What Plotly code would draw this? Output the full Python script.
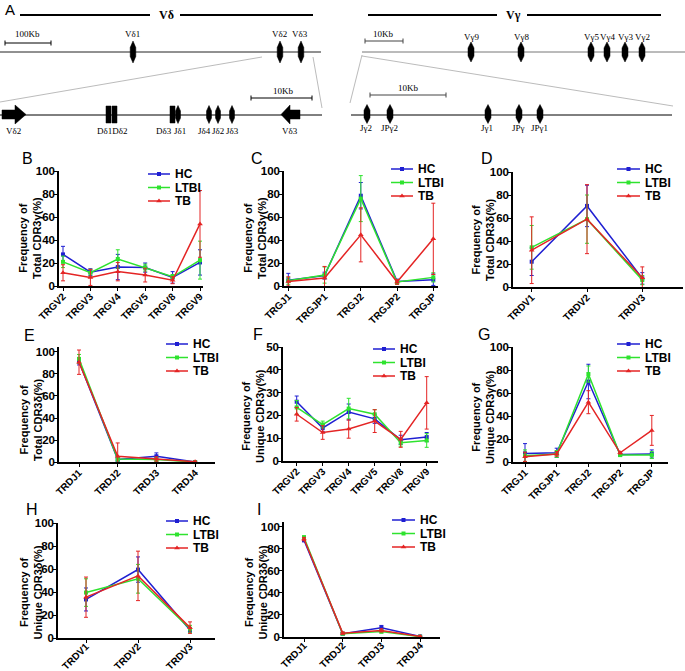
import plotly.graph_objects as go

W, H = 685, 671

# ---------------- data ----------------
groups = ["HC", "LTBI", "TB"]

TRGV = ["TRGV2", "TRGV3", "TRGV4", "TRGV5", "TRGV8", "TRGV9"]
TRGJ = ["TRGJ1", "TRGJP1", "TRGJ2", "TRGJP2", "TRGJP"]
TRDV = ["TRDV1", "TRDV2", "TRDV3"]
TRDJ = ["TRDJ1", "TRDJ2", "TRDJ3", "TRDJ4"]

# B: total CDR3 gamma, V usage
b_hc = [27.5, 12.0, 16.5, 16.0, 7.5, 20.5];  b_hc_sd = [7, 3, 11, 4, 5, 11]
b_lt = [21.0, 11.5, 23.5, 16.0, 8.0, 22.5];  b_lt_sd = [5, 3, 8, 3, 2, 16.5]
b_tb = [11.5, 7.5, 12.5, 9.5, 5.0, 54.0];    b_tb_sd = [7, 7, 8, 6, 3, 29]
# C: total CDR3 gamma, J usage
c_hc = [5.0, 9.0, 78.5, 4.0, 5.5];   c_hc_sd = [6, 3, 11.5, 2, 5]
c_lt = [4.5, 9.5, 76.0, 3.5, 7.5];   c_lt_sd = [3, 7, 20, 2, 4]
c_tb = [4.0, 7.0, 44.5, 3.5, 41.0];  c_tb_sd = [4, 10, 23.5, 2, 31]
# D: total CDR3 delta, V usage
d_hc = [22.0, 70.5, 7.5];  d_hc_sd = [12, 18, 5]
d_lt = [34.5, 59.0, 6.0];  d_lt_sd = [19, 21, 4]
d_tb = [32.0, 59.0, 8.0];  d_tb_sd = [29, 30, 9.5]
# E: total CDR3 delta, J usage
e_hc = [91.0, 2.5, 5.5, 0.3];  e_hc_sd = [3, 1.5, 3, 0.3]
e_lt = [93.5, 3.0, 2.5, 0.2];  e_lt_sd = [4, 2, 1.5, 0.2]
e_tb = [90.5, 5.5, 3.0, 0.5];  e_tb_sd = [11, 12, 2, 0.5]
# F: unique CDR3 gamma, V usage
f_hc = [26.0, 14.5, 21.5, 18.5, 9.3, 10.5];  f_hc_sd = [2.5, 1.5, 3.5, 2, 2, 2]
f_lt = [23.5, 16.0, 23.0, 20.5, 8.0, 9.0];   f_lt_sd = [3, 1.5, 4.5, 2, 1.5, 3]
f_tb = [20.5, 12.5, 14.0, 17.5, 9.5, 25.5];  f_tb_sd = [3, 3, 4, 5, 3.5, 11.5]
# G: unique CDR3 gamma, J usage
g_hc = [7.5, 8.0, 70.0, 6.5, 7.0];   g_hc_sd = [8.5, 4, 15, 1.5, 3.5]
g_lt = [5.5, 7.0, 76.5, 6.0, 6.0];   g_lt_sd = [5, 3, 7, 1, 3]
g_tb = [4.5, 7.0, 52.0, 8.0, 27.5];  g_tb_sd = [4, 2, 10, 1, 13]
# H: unique CDR3 delta, V usage
h_hc = [33.5, 59.5, 7.0];  h_hc_sd = [10, 11, 2]
h_lt = [39.5, 51.5, 8.0];  h_lt_sd = [12, 12.5, 3]
h_tb = [35.5, 54.0, 9.0];  h_tb_sd = [17.5, 21.5, 5]
# I: unique CDR3 delta, J usage
i_hc = [88.0, 3.0, 8.5, 0.5];  i_hc_sd = [1.5, 1, 2, 0.3]
i_lt = [90.5, 3.0, 5.0, 0.3];  i_lt_sd = [1.5, 1, 1.5, 0.3]
i_tb = [89.0, 3.5, 6.0, 0.5];  i_tb_sd = [1.5, 1, 1.5, 0.5]

# gene map (schematic positions along the locus drawings)
vd_top_names = ["Vδ1", "Vδ2", "Vδ3"]
vd_top_pos = [133, 280, 301]
vd_j_names = ["Jδ1", "Jδ4", "Jδ2", "Jδ3"]
vd_j_pos = [178, 209, 218, 232]
vg_top_names = ["Vγ9", "Vγ8", "Vγ5", "Vγ4", "Vγ3", "Vγ2"]
vg_top_pos = [471, 521, 591, 607, 625, 642]
vg_j_names = ["Jγ2", "JPγ2", "Jγ1", "JPγ", "JPγ1"]
vg_j_pos = [367, 390, 488, 519, 540]

# ---------------- style ----------------
COLORS = {"HC": "#1f1fd2", "LTBI": "#2ee32e", "TB": "#e42424"}
SYMBOLS = {"HC": "square", "LTBI": "square", "TB": "triangle-up"}
SANS = "Liberation Sans, Arial, sans-serif"
SERIF = "Liberation Serif, Times New Roman, serif"

panels = [
    dict(L="B", cats=TRGV, d=[(b_hc, b_hc_sd), (b_lt, b_lt_sd), (b_tb, b_tb_sd)],
         xl=59, xr=203, c0=63, s=27.4, yt=171, yb=286, ymax=100, dt=20,
         title="Frequency of<br>Total CDR3γ(%)", tx=30, ty=238, lx=(27, 158),
         leg=(148, 170, 174), so=-4),
    dict(L="C", cats=TRGJ, d=[(c_hc, c_hc_sd), (c_lt, c_lt_sd), (c_tb, c_tb_sd)],
         xl=284, xr=438, c0=288.3, s=36.25, yt=171, yb=286, ymax=100, dt=20,
         title="Frequency of<br>Total CDR3γ(%)", tx=255, ty=238, lx=(257, 158),
         leg=(391, 413, 169), so=-4),
    dict(L="D", cats=TRDV, d=[(d_hc, d_hc_sd), (d_lt, d_lt_sd), (d_tb, d_tb_sd)],
         xl=513, xr=683, c0=531.7, s=55.3, yt=172, yb=287, ymax=100, dt=20,
         title="Frequency of<br>Total CDR3δ(%)", tx=483, ty=240, lx=(487, 158),
         leg=(617, 640, 169), so=-4),
    dict(L="E", cats=TRDJ, d=[(e_hc, e_hc_sd), (e_lt, e_lt_sd), (e_tb, e_tb_sd)],
         xl=59, xr=215, c0=79, s=38.7, yt=346.7, yb=462.3, ymax=104.5, dt=20,
         title="Frequency of<br>Total CDR3δ(%)", tx=31, ty=420, lx=(29, 335),
         leg=(166, 188, 344), so=-4),
    dict(L="F", cats=TRGV, d=[(f_hc, f_hc_sd), (f_lt, f_lt_sd), (f_tb, f_tb_sd)],
         xl=283, xr=438, c0=296.7, s=26, yt=347, yb=461, ymax=50, dt=10,
         title="Frequency of<br>Unique CDR3γ(%)", tx=253, ty=416, lx=(258, 334),
         leg=(373, 395, 349), so=-4),
    dict(L="G", cats=TRGJ, d=[(g_hc, g_hc_sd), (g_lt, g_lt_sd), (g_tb, g_tb_sd)],
         xl=513, xr=668, c0=525, s=31.7, yt=347, yb=462, ymax=100, dt=20,
         title="Frequency of<br>Unique CDR3γ(%)", tx=483, ty=417, lx=(484, 334),
         leg=(617, 640, 344), so=-4),
    dict(L="H", cats=TRDV, d=[(h_hc, h_hc_sd), (h_lt, h_lt_sd), (h_tb, h_tb_sd)],
         xl=58, xr=215, c0=86, s=52, yt=523, yb=638, ymax=100, dt=20,
         title="Frequency of<br>Unique CDR3δ(%)", tx=30.5, ty=593, lx=(32, 509),
         leg=(166, 188, 521), so=-6),
    dict(L="I", cats=TRDJ, d=[(i_hc, i_hc_sd), (i_lt, i_lt_sd), (i_tb, i_tb_sd)],
         xl=284, xr=440, c0=304, s=38.7, yt=522, yb=637, ymax=104.5, dt=20,
         title="Frequency of<br>Unique CDR3δ(%)", tx=255.5, ty=593, lx=(259, 509),
         leg=(392, 415, 520), so=-6),
]

fig = go.Figure()
layout = dict(width=W, height=H, margin=dict(l=0, r=0, t=0, b=0, autoexpand=False),
              paper_bgcolor="white", plot_bgcolor="rgba(0,0,0,0)",
              showlegend=False, template="none")
annotations = []
shapes = []

OV = "x10"; OVY = "y10"

def ann(x, y, text, size, family=SANS, weight="normal", xanchor="center", yanchor="middle", angle=0):
    annotations.append(dict(x=x, y=y, xref=OV, yref=OVY, text=text, showarrow=False,
                            xanchor=xanchor, yanchor=yanchor, textangle=angle,
                            font=dict(family=family, size=size, color="black", weight=weight)))

for k, p in enumerate(panels, start=1):
    xa = "xaxis" if k == 1 else f"xaxis{k}"
    ya = "yaxis" if k == 1 else f"yaxis{k}"
    xr_ = "x" if k == 1 else f"x{k}"
    yr_ = "y" if k == 1 else f"y{k}"
    n = len(p["cats"])
    idx = list(range(n))
    for gname, (vals, sds) in zip(groups, p["d"]):
        fig.add_trace(go.Scatter(
            x=idx, y=vals, xaxis=xr_, yaxis=yr_, mode="lines+markers",
            line=dict(color=COLORS[gname], width=1.5),
            marker=dict(symbol=SYMBOLS[gname], size=4 if gname != "TB" else 5, color=COLORS[gname]),
            error_y=dict(type="data", array=sds, visible=True, color=COLORS[gname],
                         thickness=1, width=2),
            name=gname, cliponaxis=False))
    x0r = (p["xl"] - p["c0"]) / p["s"]
    x1r = (p["xr"] - p["c0"]) / p["s"]
    layout[xa] = dict(domain=[p["xl"] / W, p["xr"] / W], range=[x0r, x1r],
                      tickmode="array", tickvals=idx, ticktext=p["cats"], tickangle=-45,
                      showline=True, linecolor="black", linewidth=1.5, ticks="outside",
                      ticklen=3, tickwidth=1.2, tickcolor="black", showgrid=False, zeroline=False,
                      tickfont=dict(family=SANS, size=10, color="black", weight="bold"),
                      ticklabelstandoff=p["so"],
                      anchor=yr_, fixedrange=True, automargin=False)
    layout[ya] = dict(domain=[1 - p["yb"] / H, 1 - p["yt"] / H], range=[0, p["ymax"]],
                      tickmode="linear", tick0=0, dtick=p["dt"],
                      showline=True, linecolor="black", linewidth=1.5, ticks="outside",
                      ticklen=3, tickwidth=1.2, tickcolor="black", showgrid=False, zeroline=False,
                      tickfont=dict(family=SANS, size=11.5, color="black", weight="bold"),
                      ticklabelstandoff=-3,
                      anchor=xr_, fixedrange=True, automargin=False)
    # y title
    ann(p["tx"], p["ty"], p["title"], 11, weight="bold", angle=-90)
    # panel letter
    ann(p["lx"][0], p["lx"][1], p["L"], 16)

# overlay pixel axis
layout["xaxis10"] = dict(domain=[0, 1], range=[0, W], visible=False, fixedrange=True,
                         anchor="y10", automargin=False)
layout["yaxis10"] = dict(domain=[0, 1], range=[H, 0], visible=False, fixedrange=True,
                         anchor="x10", automargin=False)

# legends
for p in panels:
    lx0, lx1, ly0 = p["leg"]
    step = 13.5
    for j, gname in enumerate(groups):
        yy = ly0 + j * step
        fig.add_trace(go.Scatter(x=[lx0, lx1], y=[yy, yy], xaxis=OV, yaxis=OVY, mode="lines",
                                 line=dict(color=COLORS[gname], width=1.5), hoverinfo="skip"))
        fig.add_trace(go.Scatter(x=[(lx0 + lx1) / 2], y=[yy], xaxis=OV, yaxis=OVY, mode="markers",
                                 marker=dict(symbol=SYMBOLS[gname], size=4 if gname != "TB" else 5,
                                             color=COLORS[gname]), hoverinfo="skip"))
        ann(lx1 + 3, yy, gname, 12, weight="bold", xanchor="left")

# ---------------- gene map (panel A) ----------------
def line(x0, y0, x1, y1, color="black", width=1):
    shapes.append(dict(type="line", xref=OV, yref=OVY, x0=x0, y0=y0, x1=x1, y1=y1,
                       line=dict(color=color, width=width)))

def path(d, color="black"):
    shapes.append(dict(type="path", xref=OV, yref=OVY, path=d, fillcolor=color,
                       line=dict(color=color, width=0.5)))

def spindle(x, y, h, w):
    return (f"M{x},{y-h} L{x+w},{y-h*0.4} L{x+w},{y+h*0.4} L{x},{y+h} "
            f"L{x-w},{y+h*0.4} L{x-w},{y-h*0.4} Z")

def scalebar(x0, x1, y, color="black"):
    line(x0, y, x1, y, color, 1)
    line(x0, y - 2.5, x0, y + 2.5, color, 1)
    line(x1, y - 2.5, x1, y + 2.5, color, 1)

ann(10, 9, "A", 15)
# V delta header
line(20, 15, 150, 15, "black", 2.2)
line(180, 15, 313, 15, "black", 2.2)
ann(166, 15, "Vδ", 12, family=SERIF, weight="bold")
# V gamma header
line(368, 15, 497, 15, "black", 2.2)
line(527, 15, 661, 15, "black", 2.2)
ann(513, 15, "Vγ", 12, family=SERIF, weight="bold")

# delta upper locus
line(0, 52, 321, 52, "#222", 1)
scalebar(5, 51, 43)
ann(27, 34, "100Kb", 9, family=SERIF)
for nm, x in zip(vd_top_names, vd_top_pos):
    path(spindle(x, 52, 11, 2.8))
    ann(x - 1, 34, nm, 9, family=SERIF)
# zoom lines delta
line(262, 57, 0, 102, "#aaa", 0.8)
line(313, 57, 322, 108, "#aaa", 0.8)
# delta lower locus
line(0, 115, 322, 115, "black", 1)
path("M2,110 L15,110 L15,105 L26,114.5 L15,124 L15,119 L2,119 Z")
path("M300,110 L290,110 L290,105 L281,114.5 L290,124 L290,119 L300,119 Z")
path("M106,106 L111,106 L111,123 L106,123 Z")
path("M112,106 L117,106 L117,123 L112,123 Z")
path("M170,106 L175,106 L175,123 L170,123 Z")
for nm, x in zip(vd_j_names, vd_j_pos):
    path(spindle(x, 114.5, 9, 2.5))
scalebar(251, 312, 98)
ann(283, 91, "10Kb", 9, family=SERIF)
ann(13, 131, "Vδ2", 9, family=SERIF)
ann(112, 131, "Dδ1Dδ2", 9, family=SERIF)
ann(164, 131, "Dδ3", 9, family=SERIF)
lbl_x = [180, 204, 218, 232]
for nm, x in zip(vd_j_names, lbl_x):
    ann(x, 131, nm, 9, family=SERIF)
ann(290, 131, "Vδ3", 9, family=SERIF)

# gamma upper locus
line(362, 52, 685, 52, "#777", 1)
scalebar(365, 403, 41, "#444")
ann(383, 34, "10Kb", 9, family=SERIF)
for nm, x in zip(vg_top_names, vg_top_pos):
    path(spindle(x, 52, 10, 3))
    ann(x, 37, nm, 9, family=SERIF)
line(362, 55, 350, 103, "#aaa", 0.8)
line(362, 56, 673, 106, "#aaa", 0.8)
# gamma lower locus
line(351, 115, 672, 115, "black", 1)
scalebar(370, 446, 95, "#444")
ann(408, 88, "10Kb", 9, family=SERIF)
for nm, x in zip(vg_j_names, vg_j_pos):
    path(spindle(x, 114, 9.5, 3))
    ann(x - 1, 128, nm, 9, family=SERIF)

layout["annotations"] = annotations
layout["shapes"] = shapes
fig.update_layout(**layout)

fig.write_html("out.html", config={"displayModeBar": False},
               post_script="document.body.style.margin='0';document.body.style.overflow='hidden';")
